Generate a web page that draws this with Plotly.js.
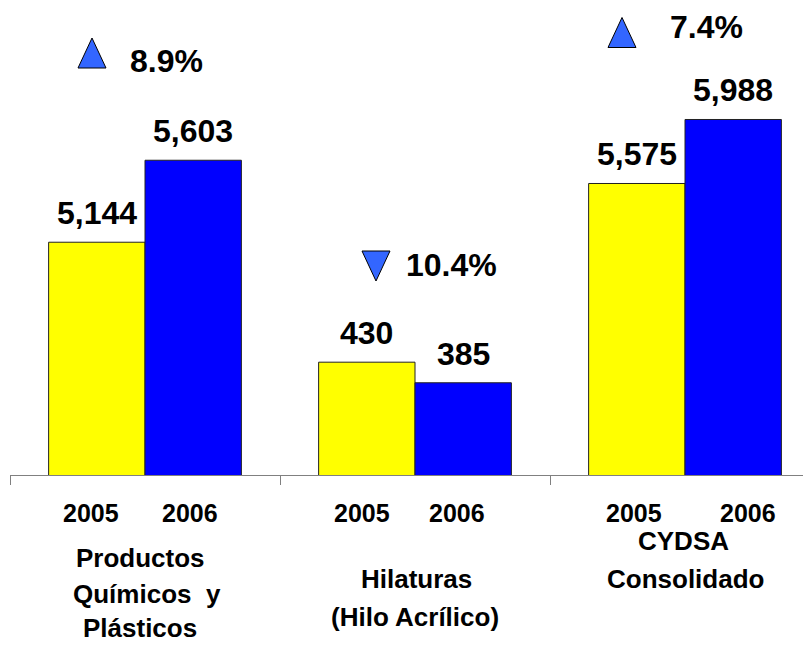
<!DOCTYPE html>
<html>
<head>
<meta charset="utf-8">
<script src="https://cdn.plot.ly/plotly-3.0.1.min.js"></script>
<style>html,body{margin:0;padding:0;background:#fff;}#chart{width:803px;height:645px;}</style>
</head>
<body>
<div id="chart"></div>
<script>
// ---- data ----
const categories = ['Productos Químicos y Plásticos', 'Hilaturas (Hilo Acrílico)', 'CYDSA Consolidado'];
const years = ['2005', '2006'];
const values2005 = [5144, 430, 5575];
const values2006 = [5603, 385, 5988];
const pctChange = [8.9, -10.4, 7.4];
const nameLines = [['Productos', 'Químicos  y', 'Plásticos'], ['Hilaturas', '(Hilo Acrílico)'], ['CYDSA', 'Consolidado']];

// ---- layout constants ----
const W = 803, H = 645, ML = 10, MB = 170;
const PLOT_H = H - MB;
const CAT_PX = 270;
const BAR_W = 0.357;
const yRanges = [[3841, 6500], [183.6, 1221], [3694, 6759]];
const FONT = 'Liberation Sans, Arial, Helvetica, sans-serif';
const COL05 = '#FFFF00', COL06 = '#0000FF', TRI = '#3366FF';

const py = p => 1 - p / PLOT_H;           // pixel row -> paper y
const cx = i => ML + CAT_PX * (i + 0.5);  // pixel center of group

const yName = i => i === 0 ? 'y' : 'y' + (i + 1);
const series = [values2005, values2006];
const colors = [COL05, COL06];

const traces = [];
categories.forEach((c, i) => {
  series.forEach((vals, s) => {
    traces.push({
      type: 'bar', x: [c], y: [vals[i]], yaxis: yName(i), name: years[s],
      width: [BAR_W], offset: s === 0 ? -BAR_W : 0,
      marker: {color: colors[s], line: {color: '#222', width: 1}},
      hoverinfo: 'skip', showlegend: false
    });
  });
});

const annotations = [];
const shapes = [];
const bold = (size) => ({family: FONT, size: size, color: '#000'});
const b = t => '<b>' + t + '</b>';

// value labels
categories.forEach((c, i) => {
  series.forEach((vals, s) => {
    annotations.push({
      xref: 'x', yref: yName(i), x: i + (s === 0 ? -BAR_W / 2 : BAR_W / 2), y: vals[i],
      text: b(vals[i].toLocaleString('en-US')), showarrow: false,
      xanchor: 'center', yanchor: 'middle', yshift: 29, font: bold(32)
    });
  });
});

// year labels (pixel centers)
const yearPx = [[91, 190], [362, 457], [634, 748]];
categories.forEach((c, i) => {
  years.forEach((yr, s) => {
    annotations.push({
      xref: 'x', yref: 'paper', x: i, xshift: yearPx[i][s] - cx(i), y: py(513),
      text: b(yr), showarrow: false, xanchor: 'center', yanchor: 'middle', font: bold(25)
    });
  });
});

// group names
const namePx = [[[140, 558], [147, 594], [140, 628]], [[416, 579], [415, 617]], [[683, 541], [685, 579]]];
nameLines.forEach((lines, i) => {
  lines.forEach((ln, k) => {
    annotations.push({
      xref: 'x', yref: 'paper', x: i, xshift: namePx[i][k][0] - cx(i), y: py(namePx[i][k][1]),
      text: b(ln), showarrow: false, xanchor: 'center', yanchor: 'middle', font: bold(26)
    });
  });
});

// percent change labels + triangles
const pctTextPx = [[166, 61.5], [451, 265], [706, 27]];
const triPx = [[92, 53], [376, 266], [622, 32.5]];
pctChange.forEach((p, i) => {
  annotations.push({
    xref: 'x', yref: 'paper', x: i, xshift: pctTextPx[i][0] - cx(i), y: py(pctTextPx[i][1]),
    text: b(Math.abs(p).toFixed(1) + '%'), showarrow: false, xanchor: 'center', yanchor: 'middle', font: bold(32)
  });
  const dx = triPx[i][0] - cx(i);
  const up = p >= 0;
  const hw = 14, hh = 15;
  const path = up
    ? `M ${dx - hw},${-hh} L ${dx + hw},${-hh} L ${dx},${hh} Z`
    : `M ${dx - hw},${hh} L ${dx + hw},${hh} L ${dx},${-hh} Z`;
  shapes.push({
    type: 'path', xref: 'x', yref: 'paper', xsizemode: 'pixel', ysizemode: 'pixel',
    xanchor: i, yanchor: py(triPx[i][1]), path: path,
    fillcolor: TRI, line: {color: '#000', width: 1}
  });
});

const hiddenY = (r, overlay) => {
  const o = {range: r, visible: false, showgrid: false, zeroline: false, fixedrange: true};
  if (overlay) o.overlaying = 'y';
  return o;
};

const layout = {
  width: W, height: H,
  margin: {l: ML, r: 0, t: 0, b: MB, pad: 0},
  paper_bgcolor: '#fff', plot_bgcolor: '#fff',
  showlegend: false, barmode: 'overlay',
  xaxis: {
    type: 'category', categoryorder: 'array', categoryarray: categories,
    range: [-0.5, -0.5 + (W - ML) / CAT_PX],
    showticklabels: false, showgrid: false, zeroline: false,
    showline: true, linecolor: '#808080', linewidth: 1,
    ticks: 'outside', ticklen: 9, tickwidth: 1, tickcolor: '#808080', tickson: 'boundaries',
    fixedrange: true
  },
  yaxis: hiddenY(yRanges[0], false),
  yaxis2: hiddenY(yRanges[1], true),
  yaxis3: hiddenY(yRanges[2], true),
  annotations: annotations,
  shapes: shapes
};

Plotly.newPlot('chart', traces, layout, {displayModeBar: false, staticPlot: true});
</script>
</body>
</html>
